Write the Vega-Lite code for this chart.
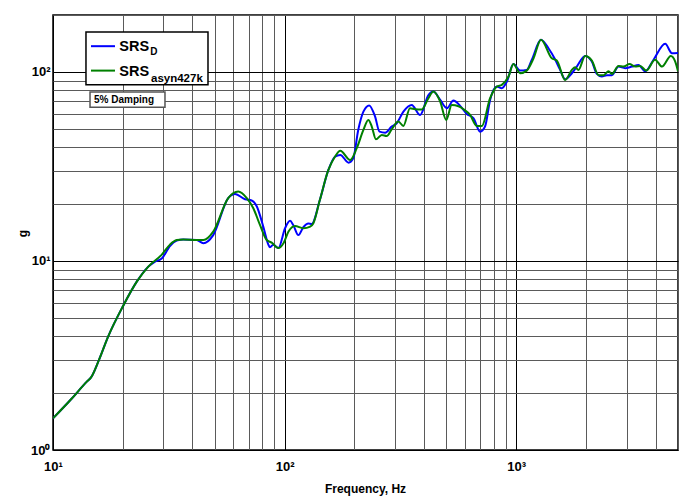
{
  "$schema": "https://vega.github.io/schema/vega-lite/v6.json",
  "width": 625,
  "height": 435,
  "autosize": "none",
  "padding": {"left": 53, "top": 15, "right": 12, "bottom": 49},
  "background": "white",
  "config": {
    "view": {"stroke": "black", "strokeWidth": 1.5},
    "font": "Liberation Sans"
  },
  "layer": [
    {
      "data": {"values": [
        {"f":10,"g":1.47,"s":"SRS_D"},{"f":12,"g":1.86,"s":"SRS_D"},{"f":14,"g":2.3,"s":"SRS_D"},{"f":14.6,"g":2.42,"s":"SRS_D"},{"f":15.8,"g":3.0,"s":"SRS_D"},{"f":17.3,"g":3.98,"s":"SRS_D"},{"f":20,"g":5.73,"s":"SRS_D"},{"f":23,"g":7.77,"s":"SRS_D"},{"f":25.8,"g":9.33,"s":"SRS_D"},{"f":27.5,"g":9.9,"s":"SRS_D"},{"f":29.5,"g":10.3,"s":"SRS_D"},{"f":32,"g":12.0,"s":"SRS_D"},{"f":34.2,"g":12.8,"s":"SRS_D"},{"f":36.5,"g":13.0,"s":"SRS_D"},{"f":41.8,"g":12.9,"s":"SRS_D"},{"f":44.6,"g":12.4,"s":"SRS_D"},{"f":49.2,"g":13.7,"s":"SRS_D"},{"f":57.1,"g":21.5,"s":"SRS_D"},{"f":61.1,"g":22.6,"s":"SRS_D"},{"f":67.5,"g":21.2,"s":"SRS_D"},{"f":72.1,"g":20.9,"s":"SRS_D"},{"f":75.9,"g":19.4,"s":"SRS_D"},{"f":80.9,"g":15.2,"s":"SRS_D"},{"f":85.1,"g":12.2,"s":"SRS_D"},{"f":86.5,"g":11.8,"s":"SRS_D"},{"f":89.4,"g":12.2,"s":"SRS_D"},{"f":94,"g":11.7,"s":"SRS_D"},{"f":100.5,"g":14.9,"s":"SRS_D"},{"f":105.6,"g":16.3,"s":"SRS_D"},{"f":109,"g":15.5,"s":"SRS_D"},{"f":114.7,"g":13.7,"s":"SRS_D"},{"f":120.5,"g":15.1,"s":"SRS_D"},{"f":126.7,"g":15.8,"s":"SRS_D"},{"f":131,"g":15.7,"s":"SRS_D"},{"f":142,"g":21.0,"s":"SRS_D"},{"f":154.6,"g":30.3,"s":"SRS_D"},{"f":165,"g":35.6,"s":"SRS_D"},{"f":174,"g":36.4,"s":"SRS_D"},{"f":189,"g":33.1,"s":"SRS_D"},{"f":198,"g":34.9,"s":"SRS_D"},{"f":208,"g":49.3,"s":"SRS_D"},{"f":219,"g":61.7,"s":"SRS_D"},{"f":232,"g":66.5,"s":"SRS_D"},{"f":246,"g":58.0,"s":"SRS_D"},{"f":257,"g":48.3,"s":"SRS_D"},{"f":272,"g":47.7,"s":"SRS_D"},{"f":290,"g":51.4,"s":"SRS_D"},{"f":305,"g":53.5,"s":"SRS_D"},{"f":326,"g":61.7,"s":"SRS_D"},{"f":354,"g":66.9,"s":"SRS_D"},{"f":385,"g":59.2,"s":"SRS_D"},{"f":418,"g":75.5,"s":"SRS_D"},{"f":439,"g":78.7,"s":"SRS_D"},{"f":470,"g":71.1,"s":"SRS_D"},{"f":502,"g":64.3,"s":"SRS_D"},{"f":536,"g":70.5,"s":"SRS_D"},{"f":573,"g":66.1,"s":"SRS_D"},{"f":612,"g":59.9,"s":"SRS_D"},{"f":654,"g":56.9,"s":"SRS_D"},{"f":699,"g":48.3,"s":"SRS_D"},{"f":734,"g":51.4,"s":"SRS_D"},{"f":772,"g":71.1,"s":"SRS_D"},{"f":825,"g":83.6,"s":"SRS_D"},{"f":867,"g":82.0,"s":"SRS_D"},{"f":912,"g":88.9,"s":"SRS_D"},{"f":973,"g":110,"s":"SRS_D"},{"f":1040,"g":101.6,"s":"SRS_D"},{"f":1111,"g":102.5,"s":"SRS_D"},{"f":1169,"g":116,"s":"SRS_D"},{"f":1280,"g":148,"s":"SRS_D"},{"f":1381,"g":133,"s":"SRS_D"},{"f":1472,"g":116.7,"s":"SRS_D"},{"f":1549,"g":102.5,"s":"SRS_D"},{"f":1628,"g":91.5,"s":"SRS_D"},{"f":1740,"g":98.4,"s":"SRS_D"},{"f":1828,"g":106.7,"s":"SRS_D"},{"f":1986,"g":121.5,"s":"SRS_D"},{"f":2123,"g":113.4,"s":"SRS_D"},{"f":2230,"g":97.6,"s":"SRS_D"},{"f":2344,"g":94.5,"s":"SRS_D"},{"f":2465,"g":96.1,"s":"SRS_D"},{"f":2591,"g":96.1,"s":"SRS_D"},{"f":2767,"g":106.7,"s":"SRS_D"},{"f":2958,"g":104.7,"s":"SRS_D"},{"f":3162,"g":106.7,"s":"SRS_D"},{"f":3377,"g":108.7,"s":"SRS_D"},{"f":3608,"g":100.8,"s":"SRS_D"},{"f":3920,"g":116,"s":"SRS_D"},{"f":4403,"g":140.7,"s":"SRS_D"},{"f":4706,"g":125.6,"s":"SRS_D"},{"f":5000,"g":126,"s":"SRS_D"},
        {"f":10,"g":1.47,"s":"SRS_asyn427k"},{"f":12,"g":1.86,"s":"SRS_asyn427k"},{"f":14,"g":2.3,"s":"SRS_asyn427k"},{"f":14.6,"g":2.42,"s":"SRS_asyn427k"},{"f":15.8,"g":3.0,"s":"SRS_asyn427k"},{"f":17.3,"g":3.98,"s":"SRS_asyn427k"},{"f":20,"g":5.73,"s":"SRS_asyn427k"},{"f":23,"g":7.77,"s":"SRS_asyn427k"},{"f":25.8,"g":9.33,"s":"SRS_asyn427k"},{"f":29.5,"g":10.8,"s":"SRS_asyn427k"},{"f":32,"g":12.2,"s":"SRS_asyn427k"},{"f":34.2,"g":12.9,"s":"SRS_asyn427k"},{"f":36.5,"g":13.0,"s":"SRS_asyn427k"},{"f":41.8,"g":12.9,"s":"SRS_asyn427k"},{"f":44.6,"g":12.9,"s":"SRS_asyn427k"},{"f":49.2,"g":14.3,"s":"SRS_asyn427k"},{"f":57.1,"g":21.5,"s":"SRS_asyn427k"},{"f":63.1,"g":23.3,"s":"SRS_asyn427k"},{"f":68.7,"g":21.5,"s":"SRS_asyn427k"},{"f":73.3,"g":19.0,"s":"SRS_asyn427k"},{"f":78.3,"g":15.5,"s":"SRS_asyn427k"},{"f":83.7,"g":12.9,"s":"SRS_asyn427k"},{"f":88,"g":12.5,"s":"SRS_asyn427k"},{"f":94,"g":11.7,"s":"SRS_asyn427k"},{"f":98.9,"g":12.4,"s":"SRS_asyn427k"},{"f":104,"g":14.3,"s":"SRS_asyn427k"},{"f":111,"g":15.3,"s":"SRS_asyn427k"},{"f":120.5,"g":14.9,"s":"SRS_asyn427k"},{"f":129,"g":15.2,"s":"SRS_asyn427k"},{"f":133,"g":15.8,"s":"SRS_asyn427k"},{"f":142,"g":21.0,"s":"SRS_asyn427k"},{"f":154.6,"g":30.3,"s":"SRS_asyn427k"},{"f":165,"g":35.6,"s":"SRS_asyn427k"},{"f":174,"g":38.3,"s":"SRS_asyn427k"},{"f":192,"g":34.2,"s":"SRS_asyn427k"},{"f":205,"g":39.5,"s":"SRS_asyn427k"},{"f":219,"g":49.3,"s":"SRS_asyn427k"},{"f":230,"g":55.7,"s":"SRS_asyn427k"},{"f":238,"g":51.4,"s":"SRS_asyn427k"},{"f":248,"g":44.0,"s":"SRS_asyn427k"},{"f":263,"g":46.4,"s":"SRS_asyn427k"},{"f":276,"g":45.8,"s":"SRS_asyn427k"},{"f":290,"g":49.7,"s":"SRS_asyn427k"},{"f":310,"g":54.6,"s":"SRS_asyn427k"},{"f":326,"g":51.8,"s":"SRS_asyn427k"},{"f":348,"g":64.3,"s":"SRS_asyn427k"},{"f":366,"g":63.5,"s":"SRS_asyn427k"},{"f":391,"g":63.2,"s":"SRS_asyn427k"},{"f":418,"g":72.6,"s":"SRS_asyn427k"},{"f":439,"g":78.7,"s":"SRS_asyn427k"},{"f":470,"g":69.6,"s":"SRS_asyn427k"},{"f":499,"g":55.7,"s":"SRS_asyn427k"},{"f":527,"g":66.9,"s":"SRS_asyn427k"},{"f":564,"g":65.8,"s":"SRS_asyn427k"},{"f":593,"g":63.5,"s":"SRS_asyn427k"},{"f":633,"g":59.2,"s":"SRS_asyn427k"},{"f":676,"g":51.8,"s":"SRS_asyn427k"},{"f":711,"g":51.8,"s":"SRS_asyn427k"},{"f":772,"g":72.6,"s":"SRS_asyn427k"},{"f":825,"g":83.6,"s":"SRS_asyn427k"},{"f":867,"g":85.4,"s":"SRS_asyn427k"},{"f":927,"g":94.5,"s":"SRS_asyn427k"},{"f":973,"g":110,"s":"SRS_asyn427k"},{"f":1040,"g":98.4,"s":"SRS_asyn427k"},{"f":1111,"g":101.6,"s":"SRS_asyn427k"},{"f":1189,"g":118,"s":"SRS_asyn427k"},{"f":1280,"g":148,"s":"SRS_asyn427k"},{"f":1426,"g":118,"s":"SRS_asyn427k"},{"f":1498,"g":114.8,"s":"SRS_asyn427k"},{"f":1628,"g":90.7,"s":"SRS_asyn427k"},{"f":1740,"g":102.5,"s":"SRS_asyn427k"},{"f":1798,"g":105.9,"s":"SRS_asyn427k"},{"f":1858,"g":102.5,"s":"SRS_asyn427k"},{"f":1986,"g":121.5,"s":"SRS_asyn427k"},{"f":2123,"g":114.8,"s":"SRS_asyn427k"},{"f":2270,"g":96.1,"s":"SRS_asyn427k"},{"f":2386,"g":96.1,"s":"SRS_asyn427k"},{"f":2507,"g":100.8,"s":"SRS_asyn427k"},{"f":2591,"g":97.6,"s":"SRS_asyn427k"},{"f":2767,"g":107.6,"s":"SRS_asyn427k"},{"f":2910,"g":106.7,"s":"SRS_asyn427k"},{"f":3087,"g":110,"s":"SRS_asyn427k"},{"f":3268,"g":106.7,"s":"SRS_asyn427k"},{"f":3434,"g":107.6,"s":"SRS_asyn427k"},{"f":3644,"g":101.6,"s":"SRS_asyn427k"},{"f":3981,"g":116,"s":"SRS_asyn427k"},{"f":4263,"g":106.7,"s":"SRS_asyn427k"},{"f":4656,"g":121.5,"s":"SRS_asyn427k"},{"f":4864,"g":113.4,"s":"SRS_asyn427k"},{"f":5000,"g":100.8,"s":"SRS_asyn427k"}
      ]},
      "mark": {"type": "line", "strokeWidth": 2, "interpolate": "monotone", "clip": true},
      "encoding": {
        "x": {
          "field": "f", "type": "quantitative",
          "scale": {"type": "log", "domain": [10, 5000], "nice": false},
          "axis": {
            "values": [10,20,30,40,50,60,70,80,90,100,200,300,400,500,600,700,800,900,1000,2000,3000,4000,5000],
            "labelExpr": "datum.value == 10 ? '10¹' : datum.value == 100 ? '10²' : datum.value == 1000 ? '10³' : ''",
            "labelOverlap": false, "labelBound": false, "labelFlush": false,
            "labelFont": "Liberation Sans", "labelFontWeight": "bold", "labelFontSize": 13, "labelColor": "black",
            "labelPadding": 10,
            "ticks": false, "domain": false,
            "grid": true,
            "gridColor": {"condition": {"test": "datum.value == 10 || datum.value == 100 || datum.value == 1000", "value": "#000000"}, "value": "#5a5a5a"},
            "gridWidth": 1, "gridOpacity": 1,
            "title": "Frequency, Hz",
            "titleFont": "Liberation Sans", "titleFontWeight": "bold", "titleFontSize": 12, "titleColor": "black",
            "titleX": 312, "titleY": 42, "titleBaseline": "alphabetic"
          }
        },
        "y": {
          "field": "g", "type": "quantitative",
          "scale": {"type": "log", "domain": [1, 200], "nice": false},
          "axis": {
            "values": [1,2,3,4,5,6,7,8,9,10,20,30,40,50,60,70,80,90,100,200],
            "labelExpr": "datum.value == 1 ? '10⁰' : datum.value == 10 ? '10¹' : datum.value == 100 ? '10²' : ''",
            "labelOverlap": false, "labelBound": false, "labelFlush": false,
            "labelFont": "Liberation Sans", "labelFontWeight": "bold", "labelFontSize": 13, "labelColor": "black",
            "labelPadding": 3, "labelBaseline": "middle",
            "ticks": false, "domain": false,
            "grid": true,
            "gridColor": {"condition": {"test": "datum.value == 1 || datum.value == 10 || datum.value == 100", "value": "#000000"}, "value": "#5a5a5a"},
            "gridWidth": 1, "gridOpacity": 1,
            "title": "g",
            "titleFont": "Liberation Sans", "titleFontWeight": "bold", "titleFontSize": 12, "titleColor": "black",
            "titleX": -31, "titleY": 218, "titleAngle": 270, "titleBaseline": "middle", "titleAlign": "center"
          }
        },
        "color": {
          "field": "s", "type": "nominal",
          "scale": {"domain": ["SRS_D", "SRS_asyn427k"], "range": ["#0000ff", "#008000"]},
          "legend": null
        }
      }
    },
    {
      "data": {"values": [{}]},
      "mark": {"type": "rect", "fill": "white", "stroke": "black", "strokeWidth": 1.5},
      "encoding": {"x": {"datum": 13.88}, "x2": {"datum": 46.7}, "y": {"datum": 162.8}, "y2": {"datum": 85.4}}
    },
    {
      "data": {"values": [{}]},
      "mark": {"type": "rule", "color": "#0000ff", "strokeWidth": 2},
      "encoding": {"x": {"datum": 14.59}, "x2": {"datum": 18.52}, "y": {"datum": 136.8}}
    },
    {
      "data": {"values": [{}]},
      "mark": {"type": "rule", "color": "#008000", "strokeWidth": 2},
      "encoding": {"x": {"datum": 14.59}, "x2": {"datum": 18.52}, "y": {"datum": 101.6}}
    },
    {
      "data": {"values": [{}]},
      "mark": {"type": "text", "align": "left", "baseline": "alphabetic", "font": "Liberation Sans", "fontWeight": "bold", "fontSize": 14.5, "color": "black"},
      "encoding": {"x": {"datum": 19.33}, "y": {"datum": 128.7}, "text": {"value": "SRS"}}
    },
    {
      "data": {"values": [{}]},
      "mark": {"type": "text", "align": "left", "baseline": "alphabetic", "font": "Liberation Sans", "fontWeight": "bold", "fontSize": 10, "color": "black"},
      "encoding": {"x": {"datum": 26.3}, "y": {"datum": 122.5}, "text": {"value": "D"}}
    },
    {
      "data": {"values": [{}]},
      "mark": {"type": "text", "align": "left", "baseline": "alphabetic", "font": "Liberation Sans", "fontWeight": "bold", "fontSize": 14.5, "color": "black"},
      "encoding": {"x": {"datum": 19.33}, "y": {"datum": 94.9}, "text": {"value": "SRS"}}
    },
    {
      "data": {"values": [{}]},
      "mark": {"type": "text", "align": "left", "baseline": "alphabetic", "font": "Liberation Sans", "fontWeight": "bold", "fontSize": 11.5, "color": "black"},
      "encoding": {"x": {"datum": 26.5}, "y": {"datum": 88.2}, "text": {"value": "asyn427k"}}
    },
    {
      "data": {"values": [{}]},
      "mark": {"type": "rect", "fill": "white", "stroke": "#555555", "strokeWidth": 1.5},
      "encoding": {"x": {"datum": 14.45}, "x2": {"datum": 30.45}, "y": {"datum": 78.4}, "y2": {"datum": 65.1}}
    },
    {
      "data": {"values": [{}]},
      "mark": {"type": "text", "align": "left", "baseline": "alphabetic", "font": "Liberation Sans", "fontWeight": "bold", "fontSize": 10, "color": "black"},
      "encoding": {"x": {"datum": 15.03}, "y": {"datum": 68.5}, "text": {"value": "5% Damping"}}
    }
  ]
}
